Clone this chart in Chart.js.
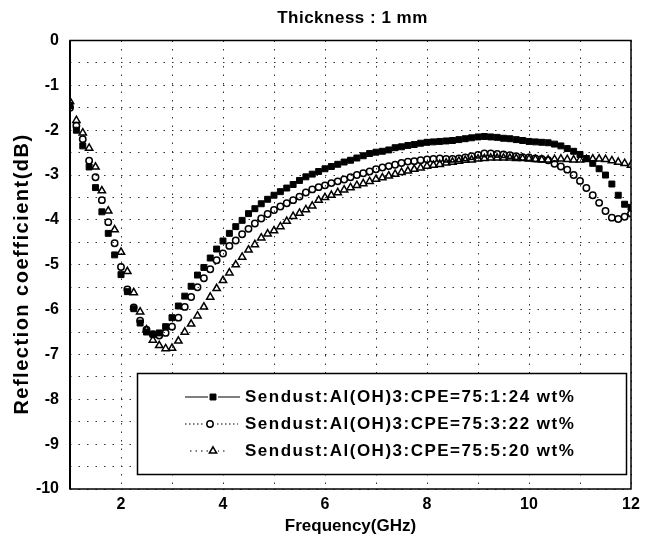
<!DOCTYPE html>
<html>
<head>
<meta charset="utf-8">
<title>Reflection coefficient vs frequency</title>
<script src="https://cdn.jsdelivr.net/npm/chart.js@4.4.1/dist/chart.umd.min.js"></script>
<style>
  html, body { margin: 0; padding: 0; background: #fff; }
  #wrap { width: 652px; height: 544px; position: relative; }
</style>
</head>
<body>
<div id="wrap"><canvas id="chart"></canvas></div>
<script>
// Frequency sampling (GHz)
const freqGHz = [
  1, 1.125, 1.25, 1.375, 1.5, 1.625, 1.75, 1.875,
  2, 2.125, 2.25, 2.375, 2.5, 2.625, 2.75, 2.875,
  3, 3.125, 3.25, 3.375, 3.5, 3.625, 3.75, 3.875,
  4, 4.125, 4.25, 4.375, 4.5, 4.625, 4.75, 4.875,
  5, 5.125, 5.25, 5.375, 5.5, 5.625, 5.75, 5.875,
  6, 6.125, 6.25, 6.375, 6.5, 6.625, 6.75, 6.875,
  7, 7.125, 7.25, 7.375, 7.5, 7.625, 7.75, 7.875,
  8, 8.125, 8.25, 8.375, 8.5, 8.625, 8.75, 8.875,
  9, 9.125, 9.25, 9.375, 9.5, 9.625, 9.75, 9.875,
  10, 10.125, 10.25, 10.375, 10.5, 10.625, 10.75, 10.875,
  11, 11.125, 11.25, 11.375, 11.5, 11.625, 11.75, 11.875,
  12
];

// Reflection coefficient (dB)
const ratio75_1_24 = [
  -1.45, -2.0, -2.35, -2.82, -3.28, -3.82, -4.3, -4.78,
  -5.22, -5.6, -5.98, -6.3, -6.5, -6.55, -6.52, -6.38,
  -6.18, -5.92, -5.7, -5.48, -5.23, -5.06, -4.85, -4.65,
  -4.47, -4.3, -4.15, -4.01, -3.86, -3.75, -3.64, -3.54,
  -3.45, -3.37, -3.29, -3.21, -3.12, -3.04, -2.98, -2.92,
  -2.86, -2.81, -2.76, -2.71, -2.67, -2.62, -2.57, -2.52,
  -2.49, -2.47, -2.44, -2.39, -2.37, -2.34, -2.32, -2.29,
  -2.27, -2.26, -2.25, -2.24, -2.23, -2.21, -2.19, -2.17,
  -2.15, -2.14, -2.15, -2.16, -2.18, -2.19, -2.21, -2.23,
  -2.25, -2.26, -2.27, -2.28, -2.31, -2.35, -2.41, -2.47,
  -2.54, -2.63, -2.74, -2.86, -3.0, -3.2, -3.45, -3.65,
  -3.72
];
const ratio75_3_22 = [
  -1.5, -1.9, -2.2, -2.68, -3.05, -3.56, -4.05, -4.52,
  -5.05, -5.55, -5.95, -6.25, -6.45, -6.55, -6.58, -6.52,
  -6.38, -6.18, -5.94, -5.72, -5.5, -5.3, -5.1, -4.9,
  -4.75, -4.58, -4.46, -4.32, -4.2, -4.08, -3.97, -3.87,
  -3.78, -3.7, -3.63, -3.56, -3.48, -3.39, -3.32, -3.27,
  -3.23, -3.18, -3.14, -3.1, -3.05, -3.0, -2.96, -2.92,
  -2.87, -2.83, -2.8, -2.77, -2.73, -2.7, -2.69, -2.67,
  -2.65, -2.64, -2.63, -2.64, -2.64, -2.63, -2.61, -2.58,
  -2.55, -2.52, -2.52, -2.53, -2.54, -2.56, -2.58, -2.6,
  -2.61, -2.63, -2.64, -2.67, -2.75, -2.81, -2.88, -3.0,
  -3.13, -3.29, -3.45, -3.62, -3.8, -3.95, -3.98, -3.93,
  -3.86
];
const ratio75_5_20 = [
  -1.36, -1.78, -2.06, -2.4, -2.82, -3.35, -3.8, -4.22,
  -4.72, -5.15, -5.62, -6.05, -6.45, -6.68, -6.8, -6.87,
  -6.86, -6.7, -6.5, -6.32, -6.14, -5.94, -5.72, -5.53,
  -5.35, -5.18, -5.0, -4.83, -4.67, -4.55, -4.4, -4.31,
  -4.24, -4.15, -4.03, -3.92, -3.85, -3.77, -3.69, -3.56,
  -3.5, -3.45, -3.39, -3.33, -3.28, -3.23, -3.19, -3.14,
  -3.09, -3.06, -3.02, -2.98, -2.94, -2.91, -2.87, -2.84,
  -2.8, -2.78, -2.76, -2.73, -2.71, -2.69, -2.67, -2.66,
  -2.64, -2.63, -2.62, -2.62, -2.62, -2.62, -2.63, -2.63,
  -2.64, -2.65, -2.66, -2.66, -2.65, -2.64, -2.65, -2.66,
  -2.66, -2.65, -2.64, -2.64, -2.65, -2.68, -2.71, -2.74,
  -2.78
];

const seriesNames = [
  'Sendust:Al(OH)3:CPE=75:1:24 wt%',
  'Sendust:Al(OH)3:CPE=75:3:22 wt%',
  'Sendust:Al(OH)3:CPE=75:5:20 wt%'
];
const xTickLabels = [2, 4, 6, 8, 10, 12];
const yTickLabels = [0, -1, -2, -3, -4, -5, -6, -7, -8, -9, -10];

const chartTitle = 'Thickness : 1 mm';
const xTitle = 'Frequency(GHz)';
const yTitle = 'Reflection coefficient(dB)';

const FONT = "'Liberation Sans', Arial, sans-serif";

function toPoints(values) {
    return freqGHz.map((f, i) => ({ x: f, y: values[i] }));
}

// title, y title, plot frame and the boxed legend inside the plot
const framePlugin = {
    id: 'frame',
    afterDraw(chart) {
        const ctx = chart.ctx;
        const a = chart.chartArea;
        ctx.save();

        // frame
        ctx.strokeStyle = '#000';
        ctx.lineWidth = 1.5;
        ctx.strokeRect(a.left, a.top, a.right - a.left, a.bottom - a.top);
        ctx.lineWidth = 2;
        ctx.beginPath();
        ctx.moveTo(a.left, a.top);
        ctx.lineTo(a.left, a.bottom);
        ctx.stroke();

        // title
        ctx.fillStyle = '#000';
        ctx.font = 'bold 17px ' + FONT;
        ctx.textAlign = 'center';
        ctx.textBaseline = 'middle';
        ctx.letterSpacing = '0.5px';
        ctx.fillText(chartTitle, (a.left + a.right) / 2 + 2, 18);

        // y axis title (rotated)
        ctx.save();
        ctx.translate(22, 274);
        ctx.rotate(-Math.PI / 2);
        ctx.font = 'bold 20px ' + FONT;
        ctx.letterSpacing = '1.5px';
        ctx.fillText(yTitle, 0, 0);
        ctx.restore();

        // legend box
        const box = { x: 137.5, y: 373.5, w: 489, h: 101 };
        ctx.fillStyle = '#fff';
        ctx.fillRect(box.x, box.y, box.w, box.h);
        ctx.lineWidth = 1.5;
        ctx.strokeStyle = '#000';
        ctx.strokeRect(box.x, box.y, box.w, box.h);

        const rows = [397, 424, 451];
        const dashes = [[], [1.5, 2.5], [1.5, 4]];
        const lineX = [[185, 240], [185, 238], [190, 228]];
        const markX = [213, 210, 213];
        chart.data.datasets.forEach((ds, i) => {
            const y = rows[i];
            ctx.strokeStyle = '#000';
            ctx.setLineDash(dashes[i]);
            ctx.lineWidth = 1.2;
            ctx.beginPath();
            ctx.moveTo(lineX[i][0], y);
            ctx.lineTo(lineX[i][1], y);
            ctx.stroke();
            ctx.setLineDash([]);

            // marker, white behind the hollow ones
            ctx.fillStyle = '#fff';
            ctx.fillRect(markX[i] - 5, y - 5, 10, 10);
            ctx.fillStyle = ds.pointStyle === 'rect' ? '#000' : '#fff';
            ctx.lineWidth = ds.pointBorderWidth;
            Chart.helpers.drawPoint(ctx, {
                pointStyle: ds.pointStyle,
                radius: ds.pointRadius,
                borderWidth: ds.pointBorderWidth
            }, markX[i], y);

            ctx.fillStyle = '#000';
            ctx.font = 'bold 17px ' + FONT;
            ctx.textAlign = 'left';
            ctx.textBaseline = 'middle';
            ctx.letterSpacing = '1.5px';
            ctx.fillText(ds.label, 245, y);
        });
        ctx.restore();
    }
};

const markerStyles = [
    { pointStyle: 'rect', pointRadius: 4.2, pointBackgroundColor: '#000', pointBorderWidth: 1 },
    { pointStyle: 'circle', pointRadius: 3.2, pointBackgroundColor: 'rgba(0,0,0,0)', pointBorderWidth: 1.5 },
    { pointStyle: 'triangle', pointRadius: 4.2, pointBackgroundColor: 'rgba(0,0,0,0)', pointBorderWidth: 1.5 }
];
const seriesValues = [ratio75_1_24, ratio75_3_22, ratio75_5_20];

const datasets = seriesNames.map((name, i) => ({
    label: name,
    data: toPoints(seriesValues[i]),
    showLine: false,
    pointStyle: markerStyles[i].pointStyle,
    pointRadius: markerStyles[i].pointRadius,
    pointBackgroundColor: markerStyles[i].pointBackgroundColor,
    pointBorderColor: '#000',
    pointBorderWidth: markerStyles[i].pointBorderWidth,
    borderColor: '#000',
    backgroundColor: '#000'
}));

const gridStyle = {
    color: '#333',
    lineWidth: 1,
    drawTicks: false
};

new Chart(document.getElementById('chart'), {
    type: 'scatter',
    data: { datasets: datasets },
    options: {
        responsive: true,
        maintainAspectRatio: false,
        animation: false,
        layout: { padding: { top: 40.5, right: 21, left: 0, bottom: 0 } },
        plugins: {
            legend: { display: false },
            tooltip: { enabled: false }
        },
        scales: {
            x: {
                type: 'linear',
                min: 1,
                max: 12,
                afterFit: (scale) => { scale.height = 55; },
                grid: gridStyle,
                border: { display: false, dash: [1.5, 7] },
                ticks: {
                    stepSize: 1,
                    autoSkip: false,
                    maxRotation: 0,
                    padding: 6,
                    color: '#000',
                    font: { family: FONT, size: 16, weight: 'bold' },
                    callback: (v) => xTickLabels.includes(v) ? String(v) : ''
                },
                title: {
                    display: true,
                    text: xTitle,
                    color: '#000',
                    font: { family: FONT, size: 17, weight: 'bold' },
                    padding: { top: 0, bottom: 7 }
                }
            },
            y: {
                type: 'linear',
                min: -10,
                max: 0,
                afterFit: (scale) => { scale.width = 70; },
                grid: gridStyle,
                border: { display: false, dash: [1.5, 7] },
                ticks: {
                    stepSize: 0.5,
                    autoSkip: false,
                    padding: 11,
                    color: '#000',
                    font: { family: FONT, size: 16, weight: 'bold' },
                    callback: (v) => yTickLabels.includes(v) ? String(v) : ''
                }
            }
        }
    },
    plugins: [framePlugin]
});
</script>
</body>
</html>
